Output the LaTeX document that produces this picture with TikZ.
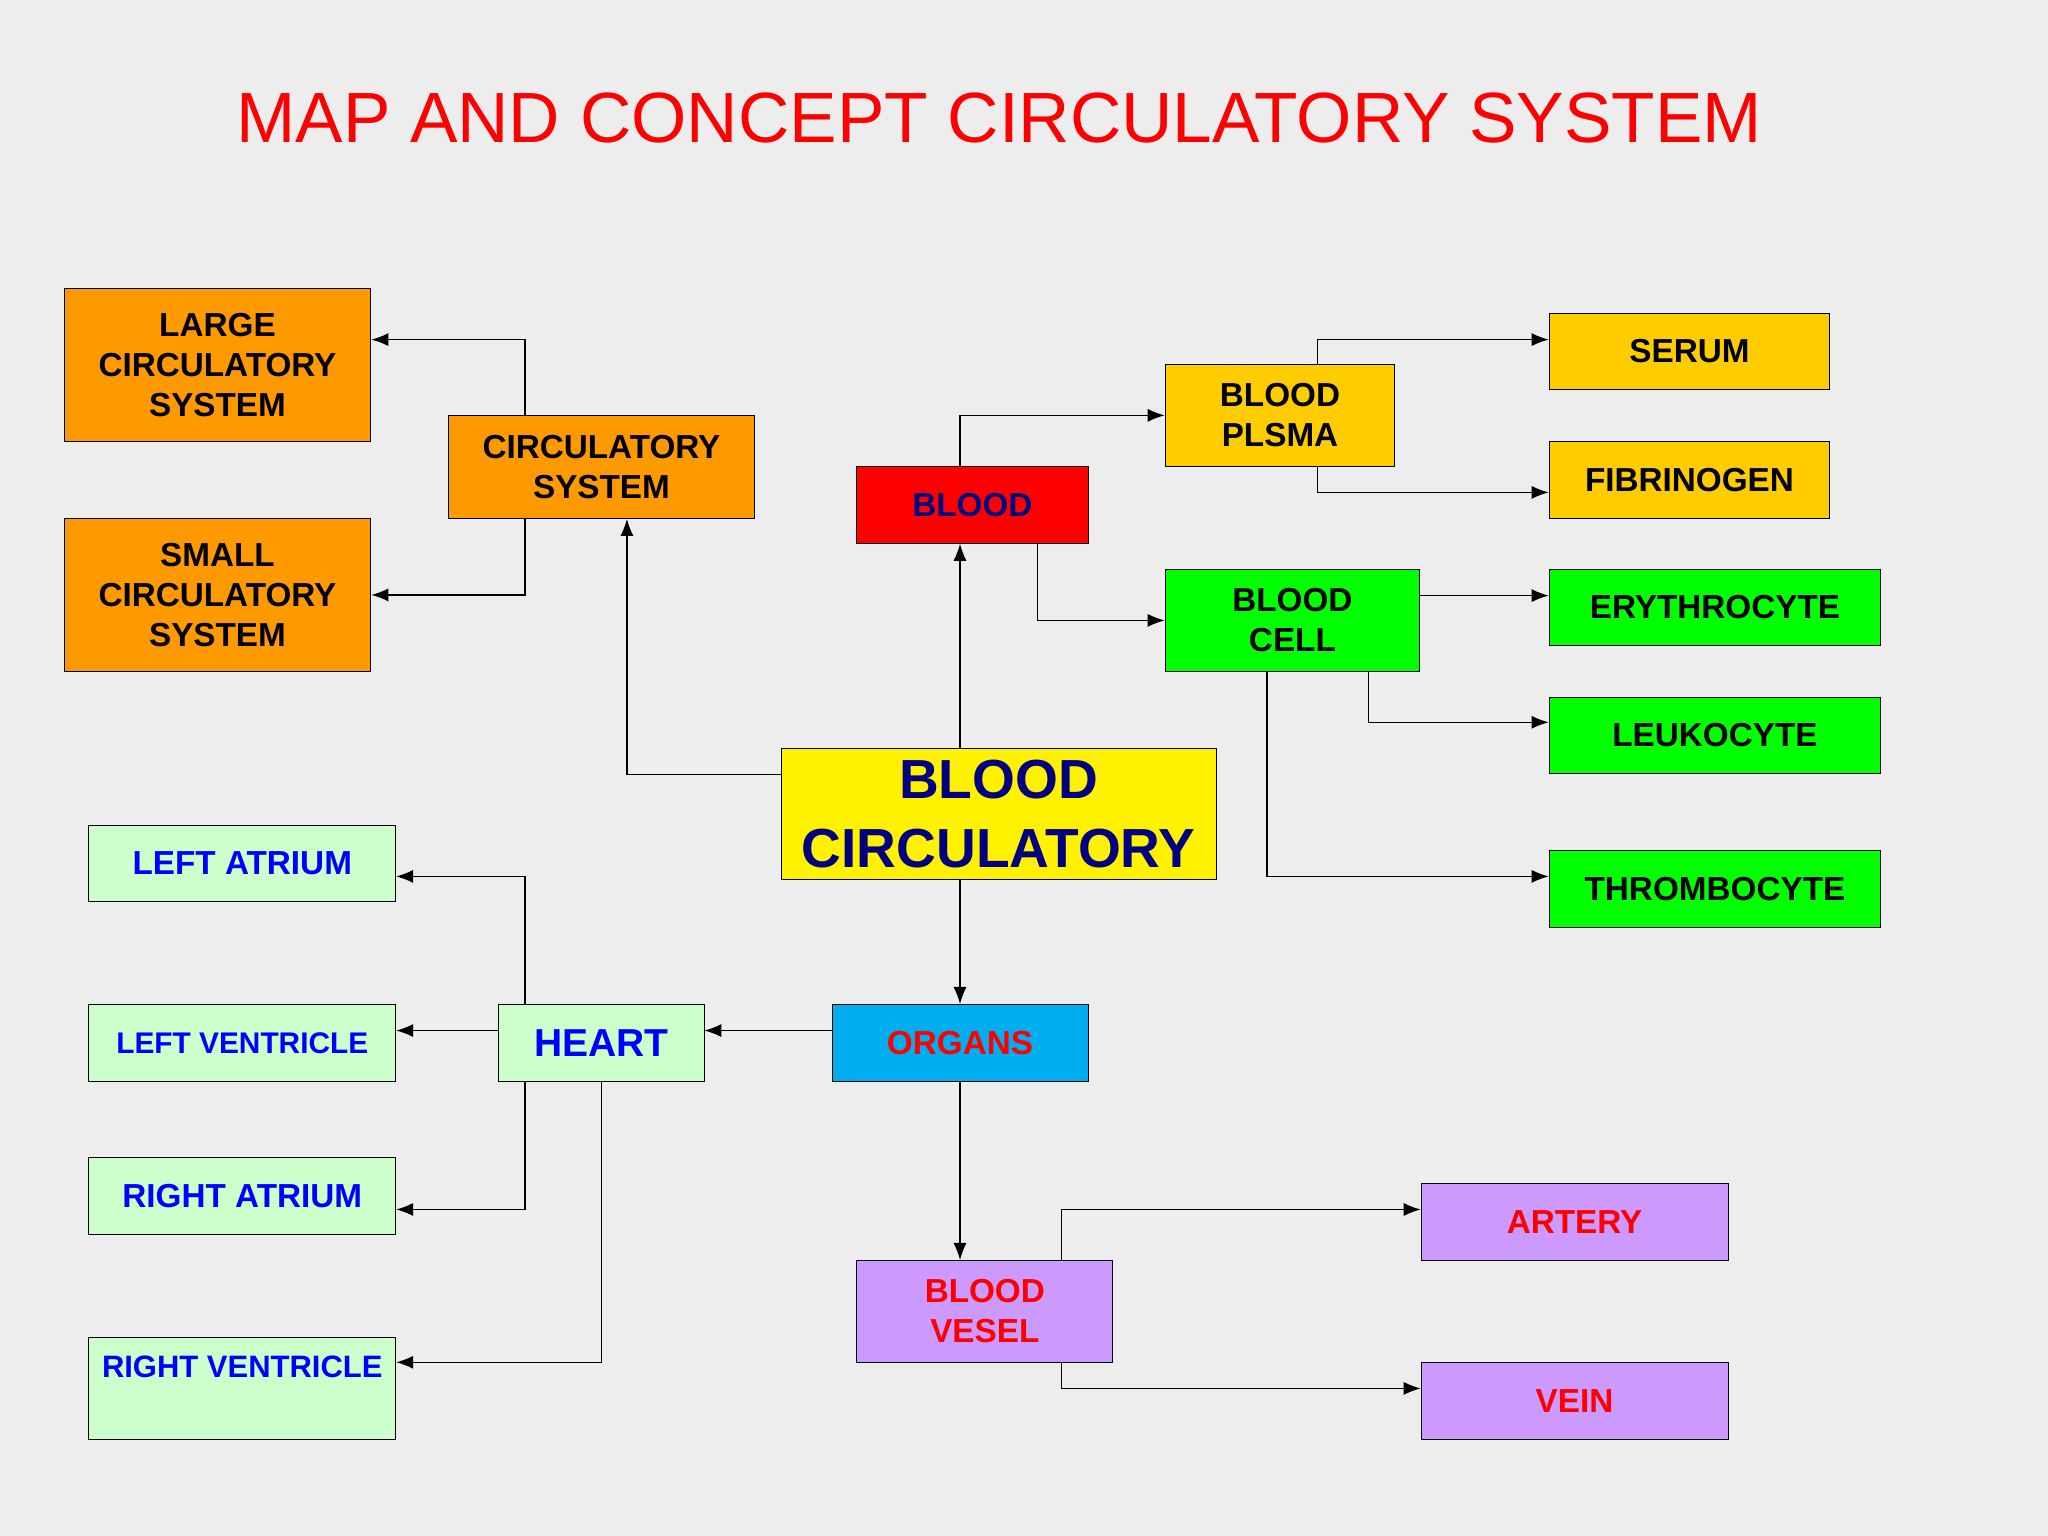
\documentclass[tikz,border=0pt]{standalone}
\usepackage{fontspec}
\setmainfont{Liberation Sans}
\usetikzlibrary{arrows.meta, calc}
\definecolor{bg}{HTML}{EDEDED}
\definecolor{orng}{HTML}{FF9900}
\definecolor{gold}{HTML}{FFCC00}
\definecolor{grn}{HTML}{00FF00}
\definecolor{lgrn}{HTML}{CCFFCC}
\definecolor{purp}{HTML}{CC99FF}
\definecolor{navy}{HTML}{000080}
\begin{document}
\begin{tikzpicture}[
    x=0.02cm, y=-0.02cm,
    box/.style = {rectangle, draw, align=center, inner sep=0pt,
                  font=\fontsize{14.5}{17.5}\selectfont\bfseries},
    pil/.style = {black, -{Latex[length=2.6mm,width=2mm]}, line width=0.5pt}
    ]
  \fill[bg] (0,0) rectangle (1568,1176);
  \useasboundingbox (0,0) rectangle (1568,1176);

  \node[text=red, font=\fontsize{31}{36}\selectfont] (title) at (765,90) {MAP AND CONCEPT CIRCULATORY SYSTEM};

  % circulatory system branch
  \node[box, fill=orng, minimum width=235*0.02cm, minimum height=117*0.02cm] (large) at (166.5,279.5) {LARGE\\CIRCULATORY\\SYSTEM};
  \node[box, fill=orng, minimum width=235*0.02cm, minimum height=79*0.02cm] (circ) at (460.5,357.5) {CIRCULATORY\\SYSTEM};
  \node[box, fill=orng, minimum width=235*0.02cm, minimum height=117*0.02cm] (small) at (166.5,455.5) {SMALL\\CIRCULATORY\\SYSTEM};

  % blood branch
  \node[box, fill=red, text=navy, minimum width=177*0.02cm, minimum height=59*0.02cm] (blood) at (744.5,386.5) {BLOOD};
  \node[box, fill=gold, minimum width=176*0.02cm, minimum height=78*0.02cm] (plasma) at (980,318) {BLOOD\\PLSMA};
  \node[box, fill=gold, minimum width=215*0.02cm, minimum height=58*0.02cm] (serum) at (1293.5,269) {SERUM};
  \node[box, fill=gold, minimum width=215*0.02cm, minimum height=59*0.02cm] (fib) at (1293.5,367.5) {FIBRINOGEN};
  \node[box, fill=grn, minimum width=195*0.02cm, minimum height=78*0.02cm] (cell) at (989.5,475) {BLOOD\\CELL};
  \node[box, fill=grn, minimum width=254*0.02cm, minimum height=58*0.02cm] (ery) at (1313,465) {ERYTHROCYTE};
  \node[box, fill=grn, minimum width=254*0.02cm, minimum height=58*0.02cm] (leu) at (1313,563) {LEUKOCYTE};
  \node[box, fill=grn, minimum width=254*0.02cm, minimum height=59*0.02cm] (thr) at (1313,680.5) {THROMBOCYTE};

  \node[box, fill=yellow, text=navy, font=\fontsize{24}{30}\selectfont\bfseries, minimum width=333*0.02cm, minimum height=100*0.02cm] (bc) at (764.5,623) {BLOOD\\CIRCULATORY};

  % heart branch
  \node[box, fill=lgrn, text=blue, minimum width=235*0.02cm, minimum height=58*0.02cm] (la) at (185.5,661) {LEFT ATRIUM};
  \node[box, fill=lgrn, text=blue, font=\fontsize{13}{16}\selectfont\bfseries, minimum width=235*0.02cm, minimum height=59*0.02cm] (lv) at (185.5,798.5) {LEFT VENTRICLE};
  \node[box, fill=lgrn, text=blue, minimum width=235*0.02cm, minimum height=59*0.02cm] (ra) at (185.5,915.5) {RIGHT ATRIUM};
  \node[box, fill=lgrn, text=blue, font=\fontsize{13.5}{19}\selectfont\bfseries, minimum width=235*0.02cm, minimum height=78*0.02cm] (rv) at (185.5,1063) {RIGHT VENTRICLE\\\phantom{X}};
  \node[box, fill=lgrn, text=blue, font=\fontsize{17}{20}\selectfont\bfseries, minimum width=157*0.02cm, minimum height=59*0.02cm] (heart) at (460.5,798.5) {HEART};
  \node[box, fill=cyan, text=red, minimum width=196*0.02cm, minimum height=59*0.02cm] (organs) at (735,798.5) {ORGANS};

  % vessel branch
  \node[box, fill=purp, text=red, minimum width=196*0.02cm, minimum height=78*0.02cm] (vesel) at (754,1004) {BLOOD\\VESEL};
  \node[box, fill=purp, text=red, minimum width=235*0.02cm, minimum height=59*0.02cm] (artery) at (1205.5,935.5) {ARTERY};
  \node[box, fill=purp, text=red, minimum width=235*0.02cm, minimum height=59*0.02cm] (vein) at (1205.5,1072.5) {VEIN};

  \draw[pil] ($(circ.north)+(-58.5,0)$) |- ($(large.east)+(0,-19.5)$);
  \draw[pil] ($(circ.south)+(-58.5,0)$) |- (small.east);
  \draw[pil] ($(bc.west)+(0,-30)$) -| ($(circ.south)+(19.5,0)$);
  \draw[pil] ($(bc.north)+(-29.5,0)$) -- ($(blood.south)+(-9.5,0)$);
  \draw[pil] ($(blood.north)+(-9.5,0)$) |- (plasma.west);
  \draw[pil] ($(blood.south)+(49.5,0)$) |- (cell.west);
  \draw[pil] ($(plasma.north)+(29,0)$) |- ($(serum.west)+(0,-9)$);
  \draw[pil] ($(plasma.south)+(29,0)$) |- ($(fib.west)+(0,9.5)$);
  \draw[pil] ($(cell.east)+(0,-19)$) -- ($(ery.west)+(0,-9)$);
  \draw[pil] ($(cell.south)+(58.5,0)$) |- ($(leu.west)+(0,-10)$);
  \draw[pil] ($(cell.south)+(-19.5,0)$) |- ($(thr.west)+(0,-9.5)$);
  \draw[pil] ($(bc.south)+(-29.5,0)$) -- (organs.north);
  \draw[pil] ($(organs.west)+(0,-9.5)$) -- ($(heart.east)+(0,-9.5)$);
  \draw[pil] ($(heart.north)+(-58.5,0)$) |- ($(la.east)+(0,10)$);
  \draw[pil] ($(heart.west)+(0,-9.5)$) -- ($(lv.east)+(0,-9.5)$);
  \draw[pil] ($(heart.south)+(-58.5,0)$) |- ($(ra.east)+(0,10.5)$);
  \draw[pil] (heart.south) |- ($(rv.east)+(0,-20)$);
  \draw[pil] (organs.south) -- ($(vesel.north)+(-19,0)$);
  \draw[pil] ($(vesel.north)+(59,0)$) |- ($(artery.west)+(0,-9.5)$);
  \draw[pil] ($(vesel.south)+(59,0)$) |- ($(vein.west)+(0,-9.5)$);
\end{tikzpicture}
\end{document}
